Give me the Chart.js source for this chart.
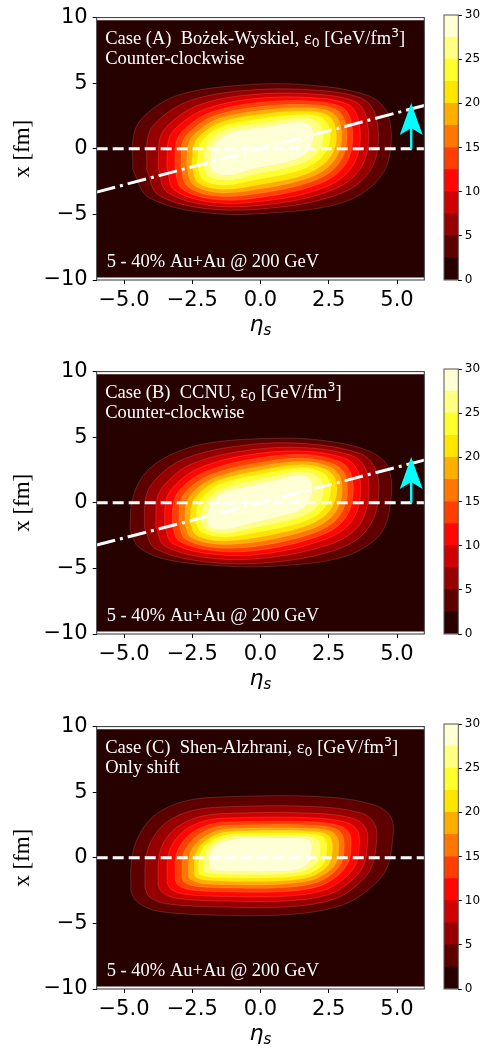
<!DOCTYPE html>
<html>
<head>
<meta charset="utf-8">
<script src="https://cdn.jsdelivr.net/npm/chart.js@4.4.1/dist/chart.umd.min.js"></script>
<style>
  html, body { margin: 0; padding: 0; background: #fff; width: 483px; height: 1051px; overflow: hidden; }
  canvas { position: absolute; }
</style>
</head>
<body>
<canvas id="mainA" width="440" height="340" style="left:0;top:0"></canvas>
<canvas id="barA" width="43" height="340" style="left:440px;top:0"></canvas>
<canvas id="mainB" width="440" height="340" style="left:0;top:354px"></canvas>
<canvas id="barB" width="43" height="340" style="left:440px;top:354px"></canvas>
<canvas id="mainC" width="440" height="340" style="left:0;top:709px"></canvas>
<canvas id="barC" width="43" height="340" style="left:440px;top:709px"></canvas>
<script>
// contour levels and colours (hot colormap, 12 bands)
const levels = [0, 2.5, 5, 7.5, 10, 12.5, 15, 17.5, 20, 22.5, 25, 27.5, 30];
const bandColors = ['#270000', '#5e0000', '#960000', '#ce0000', '#ff0700', '#ff3e00',
                    '#ff7600', '#ffae00', '#ffe600', '#ffff2e', '#ffff82', '#ffffd5'];
const xTickVals = [-5, -2.5, 0, 2.5, 5];
const yTickVals = [-10, -5, 0, 5, 10];
const cbTickVals = [0, 5, 10, 15, 20, 25, 30];

// extent of the computed grid (eta_s, x)
const field = [[-6, -9.8], [6, -9.8], [6, 9.8], [-6, 9.8]];

// contour outlines, levels 2.5 ... 27.5
const contoursA = [
  [[-4.68,-1.6],[-4.62,1.3],[-4.1,2.8],[-3.0,4.1],[-1.0,4.8],[1.5,4.9],[3.95,4.05],[4.68,2.55],[4.70,-0.8],[4.1,-2.8],[3.0,-4.1],[1.0,-4.8],[-1.9,-4.9],[-4.1,-3.7]],
  [[-4.17,-1.55],[-4.1,1.1],[-3.6,2.45],[-2.55,3.7],[-0.7,4.42],[1.6,4.52],[3.7,3.85],[4.23,2.45],[4.25,-0.5],[3.7,-2.45],[2.6,-3.65],[0.7,-4.45],[-1.8,-4.6],[-3.75,-3.5]],
  [[-3.75,-1.45],[-3.67,0.9],[-3.2,2.15],[-2.25,3.35],[-0.5,4.1],[1.7,4.2],[3.45,3.62],[3.88,2.35],[3.9,-0.3],[3.4,-2.15],[2.35,-3.35],[0.5,-4.18],[-1.7,-4.36],[-3.42,-3.3]],
  [[-3.43,-1.4],[-3.35,0.8],[-2.9,1.95],[-2.0,3.05],[-0.35,3.8],[1.7,3.92],[3.2,3.4],[3.58,2.25],[3.6,-0.2],[3.12,-1.95],[2.15,-3.1],[0.35,-3.92],[-1.6,-4.12],[-3.15,-3.15]],
  [[-3.14,-1.35],[-3.06,0.7],[-2.62,1.8],[-1.8,2.8],[-0.2,3.5],[1.7,3.65],[2.96,3.2],[3.31,2.15],[3.33,-0.1],[2.88,-1.75],[1.95,-2.82],[0.2,-3.65],[-1.6,-3.87],[-2.9,-3.0]],
  [[-2.92,-1.3],[-2.84,0.6],[-2.4,1.65],[-1.65,2.55],[-0.1,3.2],[1.7,3.38],[2.76,3.0],[3.1,2.05],[3.12,0.0],[2.68,-1.55],[1.8,-2.55],[0.1,-3.35],[-1.6,-3.6],[-2.68,-2.85]],
  [[-2.71,-1.25],[-2.62,0.5],[-2.2,1.5],[-1.5,2.32],[0.0,2.92],[1.65,3.12],[2.58,2.8],[2.91,1.95],[2.93,0.1],[2.5,-1.35],[1.65,-2.3],[0.0,-3.05],[-1.5,-3.35],[-2.48,-2.7]],
  [[-2.52,-1.2],[-2.42,0.4],[-2.02,1.35],[-1.35,2.1],[0.1,2.65],[1.6,2.88],[2.4,2.62],[2.72,1.85],[2.74,0.2],[2.32,-1.15],[1.5,-2.05],[-0.1,-2.75],[-1.4,-3.08],[-2.3,-2.55]],
  [[-2.33,-1.15],[-2.22,0.3],[-1.85,1.2],[-1.2,1.85],[0.2,2.35],[1.5,2.62],[2.2,2.42],[2.5,1.75],[2.52,0.3],[2.12,-0.9],[1.35,-1.72],[-0.2,-2.38],[-1.3,-2.78],[-2.1,-2.35]],
  [[-2.12,-1.1],[-2.0,0.2],[-1.65,1.05],[-1.05,1.6],[0.2,2.02],[1.4,2.38],[1.98,2.2],[2.25,1.6],[2.26,0.3],[1.9,-0.7],[1.2,-1.35],[-0.2,-1.95],[-1.2,-2.42],[-1.9,-2.1]],
  [[-1.88,-1.1],[-1.75,0.1],[-1.4,0.9],[-0.9,1.35],[0.2,1.7],[1.3,2.05],[1.75,1.9],[1.92,1.4],[1.88,0.3],[1.6,-0.5],[1.0,-1.0],[-0.2,-1.5],[-1.1,-2.0],[-1.7,-1.8]]
];

const contoursB = [
  [[-4.78,-2.0],[-4.7,0.2],[-4.25,2.2],[-3.35,3.6],[-1.9,4.55],[0.6,4.92],[2.4,4.72],[4.08,3.84],[4.72,2.5],[4.72,-0.6],[4.3,-2.6],[3.0,-4.15],[0.6,-4.82],[-1.3,-4.82],[-3.5,-4.3],[-4.5,-3.3]],
  [[-4.25,-1.9],[-4.18,0.6],[-3.72,2.05],[-2.85,3.3],[-1.1,4.25],[1.3,4.55],[3.65,3.75],[4.25,2.4],[4.27,-0.3],[3.8,-2.3],[2.75,-3.6],[0.6,-4.5],[-1.8,-4.55],[-3.85,-3.5]],
  [[-3.84,-1.8],[-3.76,0.5],[-3.3,1.85],[-2.5,2.98],[-0.8,3.9],[1.4,4.22],[3.4,3.55],[3.9,2.3],[3.92,-0.15],[3.5,-2.0],[2.5,-3.2],[0.4,-4.15],[-1.7,-4.25],[-3.5,-3.3]],
  [[-3.52,-1.75],[-3.43,0.4],[-2.98,1.65],[-2.2,2.7],[-0.6,3.6],[1.45,3.95],[3.15,3.33],[3.6,2.2],[3.62,-0.05],[3.2,-1.75],[2.28,-2.85],[0.3,-3.85],[-1.6,-3.95],[-3.22,-3.1]],
  [[-3.24,-1.7],[-3.15,0.3],[-2.7,1.5],[-1.95,2.45],[-0.4,3.3],[1.5,3.68],[2.92,3.12],[3.33,2.1],[3.35,0.05],[2.95,-1.55],[2.05,-2.6],[0.15,-3.55],[-1.6,-3.68],[-2.98,-2.92]],
  [[-3.0,-1.65],[-2.92,0.2],[-2.48,1.35],[-1.75,2.22],[-0.25,3.0],[1.5,3.4],[2.72,2.92],[3.12,2.0],[3.14,0.15],[2.75,-1.35],[1.88,-2.35],[0.05,-3.25],[-1.6,-3.42],[-2.76,-2.75]],
  [[-2.78,-1.6],[-2.7,0.1],[-2.27,1.2],[-1.58,2.0],[-0.1,2.75],[1.5,3.14],[2.55,2.72],[2.93,1.9],[2.95,0.25],[2.56,-1.15],[1.72,-2.1],[-0.05,-2.95],[-1.55,-3.15],[-2.56,-2.6]],
  [[-2.58,-1.55],[-2.5,0.0],[-2.08,1.05],[-1.42,1.8],[0.05,2.5],[1.5,2.9],[2.38,2.55],[2.74,1.8],[2.76,0.35],[2.38,-0.95],[1.55,-1.85],[-0.15,-2.65],[-1.45,-2.9],[-2.36,-2.45]],
  [[-2.38,-1.5],[-2.28,-0.1],[-1.88,0.9],[-1.25,1.6],[0.15,2.25],[1.45,2.65],[2.2,2.38],[2.53,1.7],[2.54,0.45],[2.18,-0.75],[1.4,-1.55],[-0.25,-2.3],[-1.35,-2.62],[-2.16,-2.25]],
  [[-2.18,-1.5],[-2.08,-0.2],[-1.7,0.7],[-1.1,1.3],[0.25,1.92],[1.35,2.38],[1.98,2.18],[2.27,1.55],[2.27,0.5],[1.95,-0.55],[1.2,-1.25],[-0.3,-1.95],[-1.3,-2.35],[-1.98,-2.05]],
  [[-1.97,-1.5],[-1.9,-0.4],[-1.6,0.45],[-1.1,0.95],[0.3,1.6],[1.3,2.1],[1.75,1.95],[1.9,1.4],[1.85,0.5],[1.5,-0.5],[0.9,-0.95],[-0.3,-1.55],[-1.3,-2.05],[-1.8,-1.9]]
];

const contoursC = [
  [[-4.75,-2.5],[-4.73,-0.3],[-4.5,1.5],[-3.9,3.2],[-2.8,4.3],[-1.2,4.65],[2.3,4.65],[4.2,4.0],[4.8,3.0],[4.82,1.0],[4.6,-0.9],[4.0,-2.35],[3.0,-3.6],[1.2,-4.3],[-1.4,-4.38],[-3.8,-4.05],[-4.55,-3.3]],
  [[-4.23,-2.3],[-4.21,-0.2],[-4.0,1.3],[-3.45,2.7],[-2.5,3.6],[-1.1,3.9],[2.0,3.9],[3.7,3.4],[4.2,2.5],[4.23,0.8],[4.05,-0.8],[3.55,-2.05],[2.7,-3.15],[1.1,-3.72],[-1.3,-3.75],[-3.45,-3.5],[-4.08,-2.95]],
  [[-3.75,-2.1],[-3.73,-0.1],[-3.55,1.15],[-3.05,2.35],[-2.2,3.15],[-1.0,3.4],[1.9,3.4],[3.4,3.0],[3.87,2.2],[3.9,0.6],[3.75,-0.7],[3.3,-1.8],[2.5,-2.8],[1.0,-3.28],[-1.2,-3.3],[-3.05,-3.1],[-3.62,-2.6]],
  [[-3.42,-1.9],[-3.4,0.0],[-3.22,1.05],[-2.78,2.1],[-2.0,2.85],[-0.9,3.05],[1.8,3.05],[3.15,2.7],[3.57,2.0],[3.6,0.5],[3.47,-0.6],[3.05,-1.6],[2.3,-2.5],[0.9,-2.93],[-1.1,-2.95],[-2.8,-2.78],[-3.3,-2.35]],
  [[-3.13,-1.7],[-3.11,0.0],[-2.94,0.95],[-2.52,1.9],[-1.8,2.58],[-0.8,2.75],[1.75,2.75],[2.9,2.45],[3.27,1.8],[3.3,0.45],[3.18,-0.5],[2.8,-1.4],[2.1,-2.2],[0.8,-2.58],[-1.0,-2.6],[-2.55,-2.45],[-3.02,-2.1]],
  [[-2.88,-1.55],[-2.86,0.0],[-2.7,0.85],[-2.3,1.72],[-1.65,2.35],[-0.7,2.5],[1.7,2.5],[2.7,2.25],[3.02,1.65],[3.05,0.4],[2.94,-0.45],[2.6,-1.25],[1.95,-1.95],[0.7,-2.28],[-0.95,-2.3],[-2.35,-2.18],[-2.78,-1.88]],
  [[-2.64,-1.4],[-2.62,0.0],[-2.47,0.8],[-2.1,1.55],[-1.5,2.12],[-0.6,2.25],[1.65,2.25],[2.55,2.05],[2.83,1.5],[2.86,0.4],[2.76,-0.4],[2.45,-1.1],[1.85,-1.72],[0.6,-2.03],[-0.9,-2.05],[-2.15,-1.95],[-2.55,-1.68]],
  [[-2.43,-1.25],[-2.41,0.0],[-2.27,0.75],[-1.93,1.42],[-1.38,1.93],[-0.5,2.05],[1.6,2.05],[2.35,1.88],[2.6,1.4],[2.63,0.4],[2.54,-0.35],[2.26,-0.98],[1.72,-1.52],[0.5,-1.78],[-0.85,-1.8],[-1.98,-1.72],[-2.35,-1.5]],
  [[-2.27,-1.1],[-2.25,0.0],[-2.12,0.7],[-1.8,1.3],[-1.28,1.74],[-0.45,1.85],[1.55,1.85],[2.18,1.7],[2.4,1.3],[2.43,0.4],[2.35,-0.3],[2.1,-0.85],[1.6,-1.32],[0.45,-1.53],[-0.8,-1.55],[-1.85,-1.48],[-2.2,-1.3]],
  [[-2.09,-0.95],[-2.07,0.05],[-1.96,0.65],[-1.66,1.2],[-1.18,1.58],[-0.4,1.68],[1.45,1.68],[1.98,1.55],[2.17,1.2],[2.19,0.4],[2.12,-0.2],[1.9,-0.7],[1.45,-1.1],[0.4,-1.29],[-0.75,-1.3],[-1.7,-1.24],[-2.03,-1.1]],
  [[-1.88,-0.7],[-1.87,0.1],[-1.77,0.65],[-1.5,1.1],[-1.05,1.42],[-0.4,1.5],[1.25,1.5],[1.7,1.4],[1.86,1.1],[1.88,0.4],[1.82,-0.2],[1.62,-0.65],[1.25,-0.95],[0.35,-1.04],[-0.7,-1.05],[-1.5,-1.0],[-1.82,-0.88]]
];

// reference lines and the rotation arrow
const zeroLine = [[-6, 0], [6, 0]];
const tiltA = [[-6, -3.3], [6, 3.3]];
const tiltB = [[-6, -3.22], [6, 3.25]];
const arrowShaft = [[5.52, 0], [5.52, 1.7]];
const arrowHead = [[5.52, 3.5], [5.94, 1.05], [5.52, 1.58], [5.1, 1.05]];

const serif = '18.5px "Liberation Serif"';
const small = '12.5px "DejaVu Sans"';

function pts(list) { return list.map(p => ({ x: p[0], y: p[1] })); }
function minus(s) { return String(s).replace('-', '\u2212'); }

function shape(list, color, order, seam) {
  return {
    data: pts(list.concat([list[0]])),
    fill: 'shape',
    backgroundColor: color,
    borderColor: seam ? 'rgba(255,215,190,0.28)' : 'rgba(0,0,0,0)',
    borderWidth: seam ? 0.6 : 0,
    pointRadius: 0,
    tension: seam ? 0.35 : 0,
    order: order
  };
}

function line(list, color, width, dash, order) {
  return { data: pts(list), borderColor: color, borderWidth: width, borderDash: dash,
           fill: false, pointRadius: 0, tension: 0, order: order };
}

function drawRuns(ctx, x, y, runs) {
  runs.forEach(r => {
    ctx.font = r[1];
    ctx.fillText(r[0], x, y + (r[2] || 0));
    x += ctx.measureText(r[0]).width;
  });
}

function panel(id, contours, tilt, caseRuns, sub) {
  const datasets = [shape(field, bandColors[0], 100, false)];
  contours.forEach((c, i) => datasets.push(shape(c, bandColors[i + 1], 90 - i, true)));
  datasets.push(line(zeroLine, '#ffffff', 3, [11, 5], 6));
  if (tilt) {
    datasets.push(line(tilt, '#ffffff', 3, [19, 5, 3, 5], 5));
    datasets.push(line(arrowShaft, '#00ffff', 2.5, [], 3));
    datasets.push(shape(arrowHead, '#00ffff', 2, false));
  }

  const deco = {
    id: 'deco' + id,
    afterDraw(chart) {
      const ctx = chart.ctx, a = chart.chartArea;
      ctx.save();
      ctx.fillStyle = '#ffffff';
      ctx.textBaseline = 'alphabetic';
      drawRuns(ctx, a.left + 8.5, a.top + 26, caseRuns);
      drawRuns(ctx, a.left + 8.5, a.top + 46, [[sub, serif]]);
      drawRuns(ctx, a.left + 10, a.bottom - 13, [['5 - 40% Au+Au @ 200 GeV', serif]]);
      // frame
      ctx.strokeStyle = '#333';
      ctx.lineWidth = 1;
      ctx.strokeRect(a.left, a.top, a.right - a.left, a.bottom - a.top);
      // x-axis label eta_s
      ctx.fillStyle = '#000';
      ctx.font = 'italic 22px "DejaVu Sans"';
      const w1 = ctx.measureText('\u03b7').width;
      ctx.font = 'italic 15px "DejaVu Sans"';
      const w2 = ctx.measureText('s').width;
      const cx = (a.left + a.right) / 2 - (w1 + w2) / 2;
      drawRuns(ctx, cx, a.bottom + 51, [['\u03b7', 'italic 22px "DejaVu Sans"'], ['s', 'italic 15px "DejaVu Sans"', 4]]);
      ctx.restore();
    }
  };

  new Chart(document.getElementById('main' + id), {
    type: 'line',
    data: { datasets: datasets },
    options: {
      responsive: false,
      animation: false,
      events: [],
      layout: { padding: { top: 15, right: 15.7, left: 0, bottom: 0 } },
      plugins: { legend: { display: false }, tooltip: { enabled: false } },
      scales: {
        x: {
          type: 'linear', min: -6, max: 6,
          afterBuildTicks: s => { s.ticks = xTickVals.map(v => ({ value: v })); },
          ticks: { callback: v => minus(v.toFixed(1)), color: '#000', padding: 4, maxRotation: 0,
                   font: { family: 'DejaVu Sans', size: 21 } },
          grid: { drawOnChartArea: false, drawTicks: true, tickLength: 4, tickColor: '#000' },
          border: { display: false },
          afterFit: s => { s.height = 60; }
        },
        y: {
          type: 'linear', min: -10, max: 10,
          afterBuildTicks: s => { s.ticks = yTickVals.map(v => ({ value: v })); },
          ticks: { callback: v => minus(v), color: '#000', padding: 5,
                   font: { family: 'DejaVu Sans', size: 21 } },
          grid: { drawOnChartArea: false, drawTicks: true, tickLength: 4, tickColor: '#000' },
          border: { display: false },
          title: { display: true, text: 'x [fm]', color: '#000', padding: { top: 9, bottom: 0 },
                   font: { family: 'Liberation Serif', size: 23 } },
          afterFit: s => { s.width = 96.7; }
        }
      }
    },
    plugins: [deco]
  });

  new Chart(document.getElementById('bar' + id), {
    type: 'bar',
    data: {
      labels: [''],
      datasets: bandColors.map((c, i) => ({
        data: [[levels[i], levels[i + 1]]], backgroundColor: c, grouped: false,
        barPercentage: 1, categoryPercentage: 1, borderWidth: 0
      }))
    },
    options: {
      responsive: false,
      animation: false,
      events: [],
      layout: { padding: { top: 15, bottom: 60, left: 4, right: 0 } },
      plugins: { legend: { display: false }, tooltip: { enabled: false } },
      scales: {
        x: { display: false },
        y: {
          position: 'right', min: 0, max: 30,
          afterBuildTicks: s => { s.ticks = cbTickVals.map(v => ({ value: v })); },
          ticks: { color: '#000', padding: 3, font: { family: 'DejaVu Sans', size: 12 } },
          grid: { drawOnChartArea: false, drawTicks: true, tickLength: 3.5, tickColor: '#000' },
          border: { display: false },
          afterFit: s => { s.width = 24.7; }
        }
      }
    },
    plugins: [{
      id: 'cbframe' + id,
      afterDraw(chart) {
        const ctx = chart.ctx, a = chart.chartArea;
        ctx.save();
        ctx.strokeStyle = '#555';
        ctx.lineWidth = 1;
        ctx.strokeRect(a.left, a.top, a.right - a.left, a.bottom - a.top);
        ctx.restore();
      }
    }]
  });
}

panel('A', contoursA, tiltA,
  [['Case (A)  Bo\u017cek-Wyskiel, \u03b5', serif], ['0', small, 3], [' [GeV/fm', serif], ['3', small, -7], [']', serif]],
  'Counter-clockwise');
panel('B', contoursB, tiltB,
  [['Case (B)  CCNU, \u03b5', serif], ['0', small, 3], [' [GeV/fm', serif], ['3', small, -7], [']', serif]],
  'Counter-clockwise');
panel('C', contoursC, null,
  [['Case (C)  Shen-Alzhrani, \u03b5', serif], ['0', small, 3], [' [GeV/fm', serif], ['3', small, -7], [']', serif]],
  'Only shift');
</script>
</body>
</html>
